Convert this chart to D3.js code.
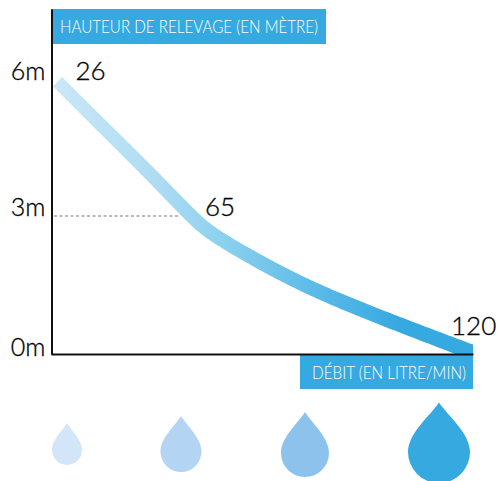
<!DOCTYPE html>
<html>
<head>
<meta charset="utf-8">
<script src="https://cdnjs.cloudflare.com/ajax/libs/d3/7.8.5/d3.min.js"></script>
<style>
html, body { margin:0; padding:0; background:#fff; overflow:hidden; }
svg { display:block; }
text { font-family:Lato, sans-serif; }
.axis path { stroke:#111; stroke-width:2; }
.axis text { font-size:25px; fill:#000; font-family:Lato, sans-serif; font-weight:300; stroke:#000; stroke-width:0.3; }
.val { font-size:26px; fill:#000; font-weight:300; stroke:#000; stroke-width:0.3; }
.tag { font-size:18px; fill:#fff; font-weight:300; }
</style>
</head>
<body>
<div id="chart"></div>
<script>
let flow = [26, 38.2, 52.6, 65, 68.3, 76.2, 86, 95.8, 107.6, 120];
let height_m = [5.92, 5, 3.93, 2.95, 2.63, 2.11, 1.53, 1.06, 0.55, 0.03];
let yTicks = [0, 3, 6];
let pointFlow = [26, 65, 120];
let pointHeight = [5.92, 3, 0.03];
let pointLabels = ['26', '65', '120'];
let dropLevels = [1, 2, 3, 4];
let yTitle = 'HAUTEUR DE RELEVAGE (EN MÈTRE)';
let xTitle = 'DÉBIT (EN LITRE/MIN)';

const blue = '#36a9e1';
let width = 499, height = 481;

let svg = d3.select('#chart').append('svg').attr('width',width).attr('height',height);

// the flow axis is not regular in the picture
let x = d3.scaleLinear().domain([24.3,26,65,120]).range([51,57.5,193,473]);
let y = d3.scaleLinear().domain([0,7.5]).range([354,9]);

let defs = svg.append('defs');
let grad = defs.append('linearGradient').attr('id','band').attr('gradientUnits','userSpaceOnUse')
    .attr('x1',52).attr('x2',400).attr('y1',0).attr('y2',0);
[[0,'#cbe8f7'],[0.3,'#aedcf3'],[0.5,'#8ad0ef'],[0.75,'#5dbbe8'],[1,blue]].forEach(function(s){
    grad.append('stop').attr('offset',s[0]).attr('stop-color',s[1]);
});
defs.append('clipPath').attr('id','plot').append('rect').attr('x',0).attr('y',0).attr('width',473).attr('height',354);

// centre line of the band, used to build a tapered outline
let pts = flow.map(function(f,i){ return [x(f), y(height_m[i])]; });
let centre = d3.line().curve(d3.curveBasis)(pts);
let probe = svg.append('path').attr('d',centre).attr('fill','none');
let node = probe.node();
let len = node.getTotalLength();
let upper = [], lower = [];
for(let s=0;s<=len+14;s+=2){
    let c = Math.min(s,len);
    let p = node.getPointAtLength(c);
    let q = node.getPointAtLength(Math.min(c+5,len));
    let o = node.getPointAtLength(Math.max(c-5,0));
    let dx = q.x-o.x, dy = q.y-o.y, n = Math.hypot(dx,dy);
    let extra = Math.max(0,s-len);
    let w = 13 + 2*c/len;
    upper.push([p.x+dx/n*extra+dy/n*w/2, p.y+dy/n*extra-dx/n*w/2]);
    lower.push([p.x+dx/n*extra-dy/n*w/2, p.y+dy/n*extra+dx/n*w/2]);
}
probe.remove();
svg.append('path').attr('clip-path','url(#plot)')
    .attr('d',d3.line()(upper.concat(lower.reverse()))+'Z')
    .attr('fill','url(#band)');

// dashed guide at 3m
svg.append('line').attr('x1',x.range()[0]+3).attr('x2',180).attr('y1',y(3)).attr('y2',y(3))
    .attr('stroke','#777').attr('stroke-width',1).attr('stroke-dasharray','3,2.5');

// title boxes
svg.append('rect').attr('x',51).attr('y',9).attr('width',275).attr('height',35).attr('fill',blue);
svg.append('rect').attr('x',300).attr('y',355).attr('width',173).attr('height',34).attr('fill',blue);
svg.append('text').attr('class','tag').attr('x',60).attr('y',33).attr('textLength',258).attr('lengthAdjust','spacingAndGlyphs').text(yTitle);
svg.append('text').attr('class','tag').attr('x',312).attr('y',379).attr('textLength',154).attr('lengthAdjust','spacingAndGlyphs').text(xTitle);

// axes
let yAxis = d3.axisLeft(y).tickValues(yTicks).tickSize(0).tickPadding(6).tickFormat(function(d){ return d+'m'; });
let xAxis = d3.axisBottom(x).tickValues([]).tickSize(0);
let gy = svg.append('g').attr('class','axis').attr('transform','translate(51.5,0)').call(yAxis);
svg.append('g').attr('class','axis').attr('transform','translate(0,'+y(0)+')').call(xAxis);
gy.selectAll('text').attr('dy','0.32em').attr('y',function(d){ return d==3 ? -9 : -6.5; });

// values along the curve
let labelDx = [18, 12, -22], labelDy = [-2, 0, -18];
svg.selectAll('.val').data(pointLabels).enter().append('text')
    .attr('class','val')
    .attr('x',function(d,i){ return x(pointFlow[i])+labelDx[i]; })
    .attr('y',function(d,i){ return y(pointHeight[i])+labelDy[i]; })
    .text(function(d){ return d; });

// drops, growing with the flow
let dropX = d3.scaleOrdinal().domain(dropLevels).range([67,181,305,439]);
let dropY = d3.scaleOrdinal().domain(dropLevels).range([450,451.5,453,452]);
let dropR = d3.scaleOrdinal().domain(dropLevels).range([15,20.5,24,31]);
let dropTip = d3.scaleOrdinal().domain(dropLevels).range([1.8,1.73,1.71,1.6]);
let dropColor = d3.scaleOrdinal().domain(dropLevels).range(['#d2e5f9','#b3d4f3','#8cc2ec',blue]);
svg.selectAll('.drop').data(dropLevels).enter().append('path')
    .attr('class','drop')
    .attr('transform',function(d){ return 'translate('+dropX(d)+','+dropY(d)+') scale('+dropR(d)+')'; })
    .attr('d',function(d){
        let t = dropTip(d);
        return 'M0,'+(-t)+'C0.3,'+(-t*0.72)+' 1,'+(-t*0.38)+' 1,0A1,1 0 0 1 -1,0C-1,'+(-t*0.38)+' -0.3,'+(-t*0.72)+' 0,'+(-t)+'Z';
    })
    .attr('fill',function(d){ return dropColor(d); });
</script>
</body>
</html>
